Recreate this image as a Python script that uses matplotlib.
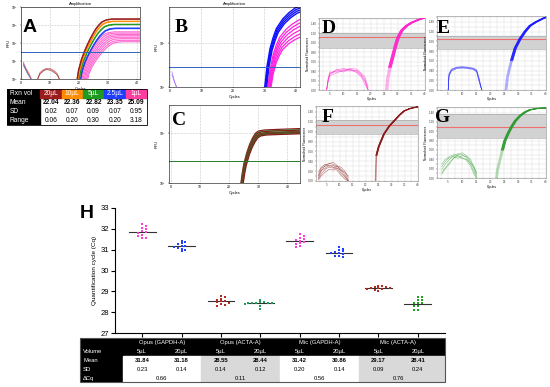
import numpy as np
import matplotlib.pyplot as plt
from matplotlib.patches import Rectangle
from matplotlib.ticker import MultipleLocator, NullLocator

plt.rcParams['font.family'] = ['Liberation Sans', 'DejaVu Sans']

# ---------------- data ----------------
# A: amplification of one assay at five reaction volumes
A_VOLS = ['20µL', '10µL', '5µL', '2.5µL', '1µL']
A_COLORS = ['#9c1c1c', '#ff8c00', '#1e9a1e', '#1f3dff', '#ff3da0']
A_LINE_COLORS = ['#9c1c1c', '#ff8c00', '#1e9a1e', '#1f3dff', '#ff66d0']
A_MEAN = ['22.04', '22.36', '22.82', '23.35', '25.09']
A_SD = ['0.02', '0.07', '0.09', '0.07', '0.95']
A_RANGE = ['0.06', '0.20', '0.30', '0.20', '3.18']
# curve shape: cycles after take-off vs fraction of plateau (log RFU)
A_SHAPE_DT = [0, 0.5, 1.5, 2.5, 3.5, 4.5, 5.5, 6.5, 7.5, 8.5, 10, 12, 15, 22]
A_SHAPE_FR = [0, 0.15, 0.33, 0.46, 0.57, 0.67, 0.76, 0.84, 0.90, 0.95, 0.985, 1.0, 1.0, 1.0]
A_START = [[19.3, 19.4], [19.6, 19.7], [20.0, 20.1], [20.5, 20.6],
           [20.2, 20.6, 21.0, 21.4, 21.8, 22.2, 22.6, 23.0]]
A_PLATEAU = [[3.34, 3.32], [3.21, 3.19], [3.04, 3.02], [2.83, 2.80],
             [2.62, 2.55, 2.47, 2.40, 2.32, 2.24, 2.15, 2.07]]
A_THRESH = 1.5
A_NOISE_X = [0.8, 1.5, 2.2, 3.0, 3.8]
A_NOISE_Y = [[0.75, 0.55, 0.4, 0.15, -0.1], [0.85, 0.6, 0.5, 0.25, -0.1],
             [0.8, 0.65, 0.35, 0.15, -0.1], [0.9, 0.55, 0.3, 0.1, -0.1],
             [0.95, 0.7, 0.45, 0.2, -0.1]]
A_ARC_X = [5.5, 6.5, 7.5, 8.5, 9.5, 10.5, 11.5, 12.5, 13.5]
A_ARC_Y = [[-0.1, 0.35, 0.5, 0.58, 0.6, 0.55, 0.45, 0.3, -0.1],
           [-0.1, 0.25, 0.45, 0.5, 0.55, 0.5, 0.4, 0.2, -0.1],
           [-0.1, 0.3, 0.4, 0.55, 0.5, 0.45, 0.35, 0.25, -0.1]]

# B: Opus GAPDH, 5 µL (pink) vs 20 µL (blue)
B_SHAPE_DT = [0, 0.7, 1.7, 2.7, 3.7, 5.7, 7.7, 9.7, 11]
B_SHAPE_FR = [0, 0.26, 0.49, 0.63, 0.74, 0.86, 0.94, 1.0, 1.02]
B_BLUE_START = [30.1, 30.3, 30.5, 30.7]
B_BLUE_TOP = [3.80, 3.76, 3.72, 3.68]
B_PINK_START = [31.1, 31.3, 31.5, 31.7, 31.9, 32.1]
B_PINK_TOP = [3.52, 3.45, 3.38, 3.30, 3.22, 3.15]
B_THRESH = 2.45
B_NOISE_X = [0.6, 1.0, 1.5, 2.0, 2.4]
B_NOISE_Y = [[2.35, 2.25, 2.12, 2.03, 1.95], [2.28, 2.2, 2.1, 2.0, 1.95]]

# C: Opus ACTA, 5 µL (red) vs 20 µL (green)
C_SHAPE_DT = [0, 0.5, 1.0, 2.0, 3.0, 4.0, 5.0, 6.0, 8.0, 12.0, 22.0]
C_SHAPE_FR = [0, 0.2, 0.36, 0.57, 0.73, 0.85, 0.94, 0.98, 1.0, 1.01, 1.03]
C_RED_START = [24.0, 24.2, 24.4, 24.6, 24.8]
C_RED_TOP = [3.06, 3.03, 3.0, 2.98, 2.96]
C_GREEN_START = [24.1, 24.3, 24.5, 24.7]
C_GREEN_TOP = [3.04, 3.01, 2.99, 2.97]
C_THRESH = 2.44

# D-G: Mic runs, normalised fluorescence
MELT_YLABELS = ['0.00', '0.20', '0.40', '0.60', '0.80', '1.00', '1.20', '1.40']
D_CYC = [25.9, 26.3, 27.1, 28.2, 29.2, 30.1, 31.5, 33.2, 35.0, 37.0, 38.5, 40.5]
D_VAL = [0, 1.2, 2.4, 3.6, 4.7, 5.55, 6.3, 6.77, 7.1, 7.35, 7.5, 7.7]
D_SHIFT = [-0.5, -0.3, -0.1, 0.1, 0.3, 0.5]
D_BASE_X = [3.8, 4.4, 5.0, 7.5, 10.0, 12.5, 14.9, 16.5, 17.9, 19.1]
D_BASE_Y = [[0, 1.2, 1.8, 2.0, 2.15, 2.2, 2.0, 1.7, 1.2, 0],
            [0, 1.0, 1.7, 2.1, 2.3, 2.1, 1.9, 1.5, 0.9, 0],
            [0, 1.3, 1.9, 1.9, 2.0, 2.3, 2.2, 1.8, 1.4, 0.3],
            [0, 0.9, 1.5, 1.8, 2.1, 2.0, 2.1, 1.6, 1.0, 0],
            [0, 1.1, 1.6, 2.2, 1.9, 2.2, 1.8, 1.4, 0.6, 0]]
D_BAND = [4.48, 6.04, 5.63]

E_CYC = [25.7, 26.2, 27.0, 27.7, 29.0, 30.7, 32.5, 34.3, 36.5, 39.1, 40.5]
E_VAL = [0, 1.3, 2.3, 3.04, 4.3, 5.24, 6.0, 6.6, 7.0, 7.37, 7.5]
E_SHIFT = [-0.4, -0.2, 0.0, 0.2, 0.4]
E_BASE_X = [5.0, 5.3, 6.2, 8, 10, 12, 14, 15.2, 16.0, 17.0]
E_BASE_Y = [[0, 1.6, 2.1, 2.3, 2.35, 2.3, 2.2, 2.0, 1.2, 0],
            [0, 1.5, 2.0, 2.25, 2.3, 2.25, 2.15, 1.9, 1.0, 0],
            [0, 1.7, 2.15, 2.35, 2.4, 2.35, 2.25, 2.05, 1.3, 0],
            [0, 1.4, 1.95, 2.2, 2.25, 2.2, 2.1, 1.85, 0.9, 0]]
E_BAND = [4.22, 5.57, 5.24]

F_CYC = [23.8, 23.9, 24.1, 25.0, 27.0, 29.0, 30.9, 33.0, 34.7, 37.0, 40.5]
F_VAL = [0, 1.3, 2.6, 3.5, 4.77, 5.55, 6.1, 6.7, 7.1, 7.35, 7.55]
F_SHIFT = [-0.2, -0.1, 0.0, 0.1, 0.2]
F_BASE_X = [1.9, 3, 4.5, 6, 7.5, 9, 10.5, 12, 13.4]
F_BASE_Y = [[0.3, 1.0, 1.6, 1.8, 1.7, 1.5, 1.2, 0.7, 0.1],
            [0.6, 1.3, 1.5, 1.75, 1.9, 1.6, 1.0, 0.5, 0.0],
            [0.2, 0.7, 1.2, 1.4, 1.3, 1.5, 1.4, 1.0, 0.3],
            [0.9, 1.4, 1.7, 1.5, 1.6, 1.3, 0.8, 0.4, 0.0],
            [0.1, 0.5, 0.9, 1.2, 1.1, 1.3, 1.1, 0.9, 0.5],
            [0.5, 1.1, 1.3, 1.6, 1.4, 1.1, 0.6, 0.2, 0.0]]
F_BAND = [4.8, 6.2, 5.7]

G_CYC = [22.3, 22.6, 23.5, 24.4, 25.3, 26.5, 27.7, 29.0, 30.7, 32.5, 34.3, 37.0, 40.5]
G_VAL = [0, 0.8, 1.9, 3.0, 4.0, 4.8, 5.49, 6.1, 6.65, 7.05, 7.3, 7.45, 7.5]
G_SHIFT = [-0.4, -0.2, 0.0, 0.2, 0.4]
G_BASE_X = [2.7, 4, 5.5, 7, 8.5, 10, 11.5, 13, 14.2, 15.2]
G_BASE_Y = [[0.9, 1.5, 2.0, 2.4, 2.6, 2.5, 2.2, 1.5, 0.7, 0.0],
            [1.2, 1.8, 2.2, 2.3, 2.1, 2.4, 2.3, 1.8, 1.0, 0.2],
            [0.6, 1.1, 1.7, 2.1, 2.5, 2.7, 2.4, 2.0, 1.2, 0.4],
            [1.5, 2.0, 2.3, 2.5, 2.4, 2.2, 1.9, 1.3, 0.4, 0.0],
            [0.4, 1.0, 1.5, 2.2, 2.3, 2.1, 2.0, 1.6, 1.2, 0.6]]
G_BAND = [4.33, 6.86, 5.49]

# H: Cq of every replicate
H_COLORS = ['#ff3cd6', '#2040ff', '#b02a20', '#1b9e5a', '#ff3cd6', '#2040ff', '#b02a20', '#22a022']
H_CQ = [
    [32.25, 32.15, 32.05, 31.98, 31.9, 31.85, 31.8, 31.72, 31.65, 31.58, 31.55],
    [31.42, 31.35, 31.3, 31.25, 31.2, 31.18, 31.15, 31.1, 31.05, 30.98, 30.92],
    [28.8, 28.72, 28.65, 28.6, 28.56, 28.52, 28.48, 28.45, 28.4, 28.35, 28.32],
    [28.6, 28.5, 28.48, 28.46, 28.45, 28.44, 28.43, 28.42, 28.4, 28.3, 28.15],
    [31.75, 31.65, 31.55, 31.5, 31.45, 31.42, 31.38, 31.3, 31.25, 31.18, 31.12],
    [31.15, 31.05, 30.98, 30.92, 30.88, 30.85, 30.82, 30.78, 30.72, 30.68, 30.65],
    [29.28, 29.25, 29.22, 29.2, 29.18, 29.17, 29.15, 29.12, 29.1, 29.05, 29.02],
    [28.75, 28.75, 28.6, 28.6, 28.45, 28.45, 28.42, 28.3, 28.3, 28.12, 28.12],
]
H_GROUPS = ['Opus (GAPDH-A)', 'Opus (ACTA-A)', 'Mic (GAPDH-A)', 'Mic (ACTA-A)']
H_VOLUME = ['5µL', '20µL'] * 4
H_MEAN = [31.84, 31.18, 28.55, 28.44, 31.42, 30.86, 29.17, 28.41]
H_SD = ['0.23', '0.14', '0.14', '0.12', '0.20', '0.14', '0.09', '0.24']
H_DCQ = ['0.66', '0.11', '0.56', '0.76']

# ---------------- layout helpers ----------------
W, H = 550, 387
fig = plt.figure(figsize=(5.5, 3.87), dpi=100)


def ax_at(x0, y0, x1, y1):
    return fig.add_axes([x0 / W, 1 - y1 / H, (x1 - x0) / W, (y1 - y0) / H])


def letter(x, y, s, serif=False):
    fig.text(x / W, 1 - y / H, s, fontsize=14, fontweight='bold',
             family='Liberation Serif' if serif else 'Liberation Sans',
             ha='left', va='baseline')


def amp_axes(ax, xlim, ylog, title):
    ax.set_yscale('log')
    ax.set_xlim(*xlim)
    ax.set_ylim(10 ** ylog[0], 10 ** ylog[1])
    ax.xaxis.set_major_locator(MultipleLocator(10))
    ax.yaxis.set_minor_locator(NullLocator())
    ax.grid(True, ls=':', lw=0.4, color='#9a9a9a')
    ax.tick_params(labelsize=2.5, length=1, width=0.3, pad=0.8)
    ax.set_xlabel('Cycles', fontsize=2.8, labelpad=0.8)
    ax.set_ylabel('RFU', fontsize=2.8, labelpad=0.8)
    if title:
        ax.set_title('Amplification', fontsize=3, pad=1.2)
    for sp in ax.spines.values():
        sp.set_linewidth(0.4)


def shaped(ax, start, top, base, dt, fr, color, lw):
    x = [start + d for d in dt]
    y = [10 ** (base + f * (top - base)) for f in fr]
    ax.plot(x, y, color=color, lw=lw, solid_capstyle='round')


def melt_axes(ax, band):
    ax.set_xlim(1, 40)
    ax.set_ylim(0, 7.6)
    ax.set_xticks(range(5, 41, 5))
    ax.set_xticks(np.arange(2.5, 40, 5), minor=True)
    ax.set_yticks(range(8))
    ax.set_yticklabels(MELT_YLABELS)
    ax.set_yticks(np.arange(0.5, 7.6, 1), minor=True)
    ax.grid(True, which='both', color='#dedede', lw=0.35)
    ax.set_axisbelow(True)
    ax.tick_params(which='both', labelsize=2.2, length=0.8, width=0.3, pad=0.8, colors='#444444')
    ax.set_xlabel('Cycles', fontsize=2.4, labelpad=0.8)
    ax.set_ylabel('Normalised Fluorescence', fontsize=2.2, labelpad=1)
    for sp in ax.spines.values():
        sp.set_linewidth(0.4)
        sp.set_color('#888888')
    ax.axhspan(band[0], band[1], color='#d2d2d2', lw=0, zorder=1)
    ax.axhline(band[0], color='#a0a0a0', lw=0.4, zorder=1)
    ax.axhline(band[1], color='#a0a0a0', lw=0.4, zorder=1)
    ax.axhline(band[2], color='#f07070', lw=0.8, zorder=1.5)


def melt_curves(ax, color, cyc, val, shifts, bx, bys, fade_at):
    for by in bys:
        ax.plot(bx, by, color=color, lw=0.45, alpha=0.55, zorder=2)
    k = next(i for i, v in enumerate(val) if v >= fade_at)
    for s in shifts:
        xs = [c + s for c in cyc]
        ax.plot(xs, val, color=color, lw=0.5, alpha=0.3, zorder=2)
        ax.plot(xs[k:], val[k:], color=color, lw=0.6, alpha=0.9, zorder=3)


def swarm(vals, dy=0.12, dx=0.1):
    # simple beeswarm: each point goes to the free slot nearest the centre
    placed = []
    offs = []
    for v in vals:
        k = 0
        while True:
            cands = [0.0] if k == 0 else [-k * dx, k * dx]
            ok = [c for c in cands
                  if all(abs(c - px) >= dx * 0.99 or abs(v - py) >= dy for px, py in placed)]
            if ok:
                off = ok[len(placed) % len(ok)]
                break
            k += 1
        placed.append((off, v))
        offs.append(off)
    return np.array(offs)


# ---------------- A ----------------
ax = ax_at(21, 7, 140, 79)
amp_axes(ax, (0, 41), (0, 4), True)
for i, c in enumerate(A_COLORS):
    ax.plot(A_NOISE_X, [10 ** v for v in A_NOISE_Y[i]], color=c, lw=0.4, alpha=0.8)
for ys in A_ARC_Y:
    ax.plot(A_ARC_X, [10 ** v for v in ys], color=A_COLORS[0], lw=0.4, alpha=0.8)
for i in [4, 3, 2, 1, 0]:
    for s, p in zip(A_START[i], A_PLATEAU[i]):
        shaped(ax, s, p, 0, A_SHAPE_DT, A_SHAPE_FR, A_LINE_COLORS[i], 0.8)
ax.axhline(10 ** A_THRESH, color='#2f64c0', lw=0.7)
letter(23, 32, 'A')

ta = ax_at(7, 89, 147, 125)
ta.set_xlim(0, 6.55)
ta.set_ylim(0, 4)
ta.axis('off')
ta.add_patch(Rectangle((0, 0), 1.55, 4, color='black'))
for i, c in enumerate(A_COLORS):
    ta.add_patch(Rectangle((1.55 + i, 3), 1, 1, color=c))
    ta.text(2.05 + i, 3.45, A_VOLS[i], color='white', fontsize=4.8, ha='center', va='center')
    ta.text(2.05 + i, 2.45, A_MEAN[i], fontsize=4.8, ha='center', va='center', fontweight='bold')
    ta.text(2.05 + i, 1.45, A_SD[i], fontsize=4.8, ha='center', va='center')
    ta.text(2.05 + i, 0.45, A_RANGE[i], fontsize=4.8, ha='center', va='center')
for j, lab in enumerate(['Rxn vol', 'Mean', 'SD', 'Range']):
    ta.text(0.12, 3.45 - j, lab, color='white', fontsize=4.8, ha='left', va='center')
ta.add_patch(Rectangle((0, 0), 6.55, 4, fill=False, ec='black', lw=0.6, clip_on=False))

# ---------------- B ----------------
ax = ax_at(169, 7, 300, 87)
amp_axes(ax, (-0.3, 41.3), (2, 3.82), True)
for ys in B_NOISE_Y:
    ax.plot(B_NOISE_X, [10 ** v for v in ys], color='#9955ff', lw=0.4)
for s, t in zip(B_PINK_START, B_PINK_TOP):
    shaped(ax, s, t, 2, B_SHAPE_DT, B_SHAPE_FR, '#ff22dd', 0.9)
for s, t in zip(B_BLUE_START, B_BLUE_TOP):
    shaped(ax, s, t, 2, B_SHAPE_DT, B_SHAPE_FR, '#1010ff', 1.0)
ax.axhline(10 ** B_THRESH, color='#2f64c0', lw=0.7)
letter(175, 32, 'B', serif=True)

# ---------------- C ----------------
ax = ax_at(169, 105, 300, 183)
amp_axes(ax, (-0.7, 44.3), (2, 3.56), False)
for k in range(max(len(C_RED_START), len(C_GREEN_START))):
    if k < len(C_RED_START):
        shaped(ax, C_RED_START[k], C_RED_TOP[k], 2, C_SHAPE_DT, C_SHAPE_FR, '#8b1a1a', 0.9)
    if k < len(C_GREEN_START):
        shaped(ax, C_GREEN_START[k], C_GREEN_TOP[k], 2, C_SHAPE_DT, C_SHAPE_FR, '#1f8f2f', 0.7)
ax.axhline(10 ** C_THRESH, color='#2a7a2a', lw=0.7)
letter(172, 125, 'C', serif=True)

# ---------------- D-G ----------------
panels = [
    ((319, 18, 425, 90), '#ff22cc', D_CYC, D_VAL, D_SHIFT, D_BASE_X, D_BASE_Y, D_BAND, 'D', (322, 33)),
    ((437, 16, 546, 90), '#1818ff', E_CYC, E_VAL, E_SHIFT, E_BASE_X, E_BASE_Y, E_BAND, 'E', (437, 33)),
    ((316, 106, 418, 181), '#8b1a1a', F_CYC, F_VAL, F_SHIFT, F_BASE_X, F_BASE_Y, F_BAND, 'F', (322, 122)),
    ((437, 107, 546, 178), '#2a9a2a', G_CYC, G_VAL, G_SHIFT, G_BASE_X, G_BASE_Y, G_BAND, 'G', (435, 122)),
]
for box, col, cyc, val, sh, bx, bys, band, lab, lpos in panels:
    ax = ax_at(*box)
    melt_axes(ax, band)
    melt_curves(ax, col, cyc, val, sh, bx, bys, 2.4)
    letter(lpos[0], lpos[1], lab, serif=True)

# ---------------- H ----------------
hx = ax_at(115, 208, 445, 333)
hx.set_xlim(0.31, 8.69)
hx.set_ylim(27, 33)
for sp in ['top', 'right']:
    hx.spines[sp].set_visible(False)
for sp in ['left', 'bottom']:
    hx.spines[sp].set_linewidth(0.8)
hx.set_xticks(range(1, 9))
hx.set_xticklabels([])
hx.set_yticks(range(27, 34))
hx.tick_params(direction='out', length=3, width=0.8, labelsize=5.5, pad=1)
hx.set_ylabel('Quantification cycle (Cq)', fontsize=4.6, labelpad=2.5)

for g, vals in enumerate(H_CQ):
    x = g + 1
    hx.scatter(x + swarm(vals), vals, s=4, marker='s', color=H_COLORS[g], lw=0, zorder=3)
    hx.plot([x - 0.34, x + 0.34], [H_MEAN[g]] * 2, color='#333333', lw=0.8, zorder=2)
letter(80, 218, 'H')

tb = ax_at(80, 338, 445, 382)
tb.set_xlim(-0.58, 8.69)
tb.set_ylim(0, 5)
tb.axis('off')
tb.add_patch(Rectangle((-0.58, 0), 1.08, 5, color='black'))
tb.add_patch(Rectangle((0.5, 3), 8.19, 2, color='black'))
for k, c in enumerate(['white', '#d9d9d9', 'white', '#d9d9d9']):
    x0 = 0.5 + 2 * k
    tb.add_patch(Rectangle((x0, 0), (2 if k < 3 else 8.69 - x0), 3, color=c))
fs = 4.2
for k, name in enumerate(H_GROUPS):
    tb.text(1.5 + 2 * k, 4.5, name, color='white', fontsize=fs, ha='center', va='center')
    tb.text(1.5 + 2 * k, 0.45, H_DCQ[k], fontsize=fs, ha='center', va='center')
for g in range(8):
    tb.text(g + 1, 3.45, H_VOLUME[g], color='white', fontsize=fs, ha='center', va='center')
    tb.text(g + 1, 2.45, f'{H_MEAN[g]:.2f}', fontsize=fs, ha='center', va='center', fontweight='bold')
    tb.text(g + 1, 1.45, H_SD[g], fontsize=fs, ha='center', va='center')
for j, lab in zip([3, 2, 1, 0], ['Volume', 'Mean', 'SD', 'ΔCq']):
    tb.text(-0.5, j + 0.45, lab, color='white', fontsize=fs, ha='left', va='center')
tb.add_patch(Rectangle((-0.58, 0), 9.27, 5, fill=False, ec='#555555', lw=0.8, clip_on=False))

fig.savefig('out.png', dpi=100)
